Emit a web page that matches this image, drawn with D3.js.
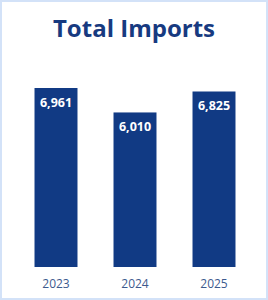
<!DOCTYPE html>
<html lang="en">
<head>
    <meta charset="utf-8"/>
    <script src="https://d3js.org/d3.v7.min.js"></script>
    <title>Total Imports</title>
    <style>
        html, body {
            margin: 0;
            padding: 0;
            background: #fff;
        }

        svg {
            display: block;
            font-family: "Open Sans", "Noto Sans", sans-serif;
        }
    </style>
</head>
<body>
<svg></svg>
<script>
    const years = ["2023", "2024", "2025"];
    const imports = [6961, 6010, 6825];
    const chartTitle = "Total Imports";

    const width = 268, height = 300;
    const barColor = "#113a84";

    const svg = d3.select("svg").attr("width", width).attr("height", height);

    // light frame round the card
    svg.append("rect")
        .attr("x", 1).attr("y", 1)
        .attr("width", width - 2).attr("height", height - 2)
        .attr("fill", "#fff")
        .attr("stroke", "#d3e2f8")
        .attr("stroke-width", 2);

    svg.append("text")
        .attr("x", width / 2)
        .attr("y", 37)
        .attr("text-anchor", "middle")
        .attr("font-size", 24)
        .attr("font-weight", "bold")
        .attr("fill", "#173a80")
        .text(chartTitle);

    const data = years.map((y, i) => ({year: y, value: imports[i]}));

    const x = d3.scaleBand()
        .domain(years)
        .range([16.5, 253.5])
        .paddingInner(0.456)
        .paddingOuter(0.228);

    const baseY = 267;
    const y = d3.scaleLinear()
        .domain([0, 6961])
        .range([baseY, 88]);

    const g = svg.append("g");

    g.selectAll(".bar")
        .data(data)
        .enter()
        .append("rect")
        .attr("class", "bar")
        .attr("x", d => x(d.year))
        .attr("y", d => y(d.value))
        .attr("width", x.bandwidth())
        .attr("height", d => baseY - y(d.value))
        .attr("fill", barColor);

    g.selectAll(".val")
        .data(data)
        .enter()
        .append("text")
        .attr("class", "val")
        .attr("x", d => x(d.year) + x.bandwidth() / 2)
        .attr("y", d => y(d.value) + 19)
        .attr("text-anchor", "middle")
        .attr("font-size", 12.5)
        .attr("font-weight", "bold")
        .attr("fill", "#fff")
        .text(d => d3.format(",")(d.value));

    const xAxis = d3.axisBottom(x).tickSize(0).tickPadding(12);
    const ax = svg.append("g")
        .attr("transform", `translate(0,${baseY})`)
        .call(xAxis);
    ax.select(".domain").remove();
    ax.selectAll("text")
        .attr("font-size", 12)
        .attr("font-family", "\"Open Sans\", \"Noto Sans\", sans-serif")
        .attr("fill", "#3d5a8e");
</script>
</body>
</html>
